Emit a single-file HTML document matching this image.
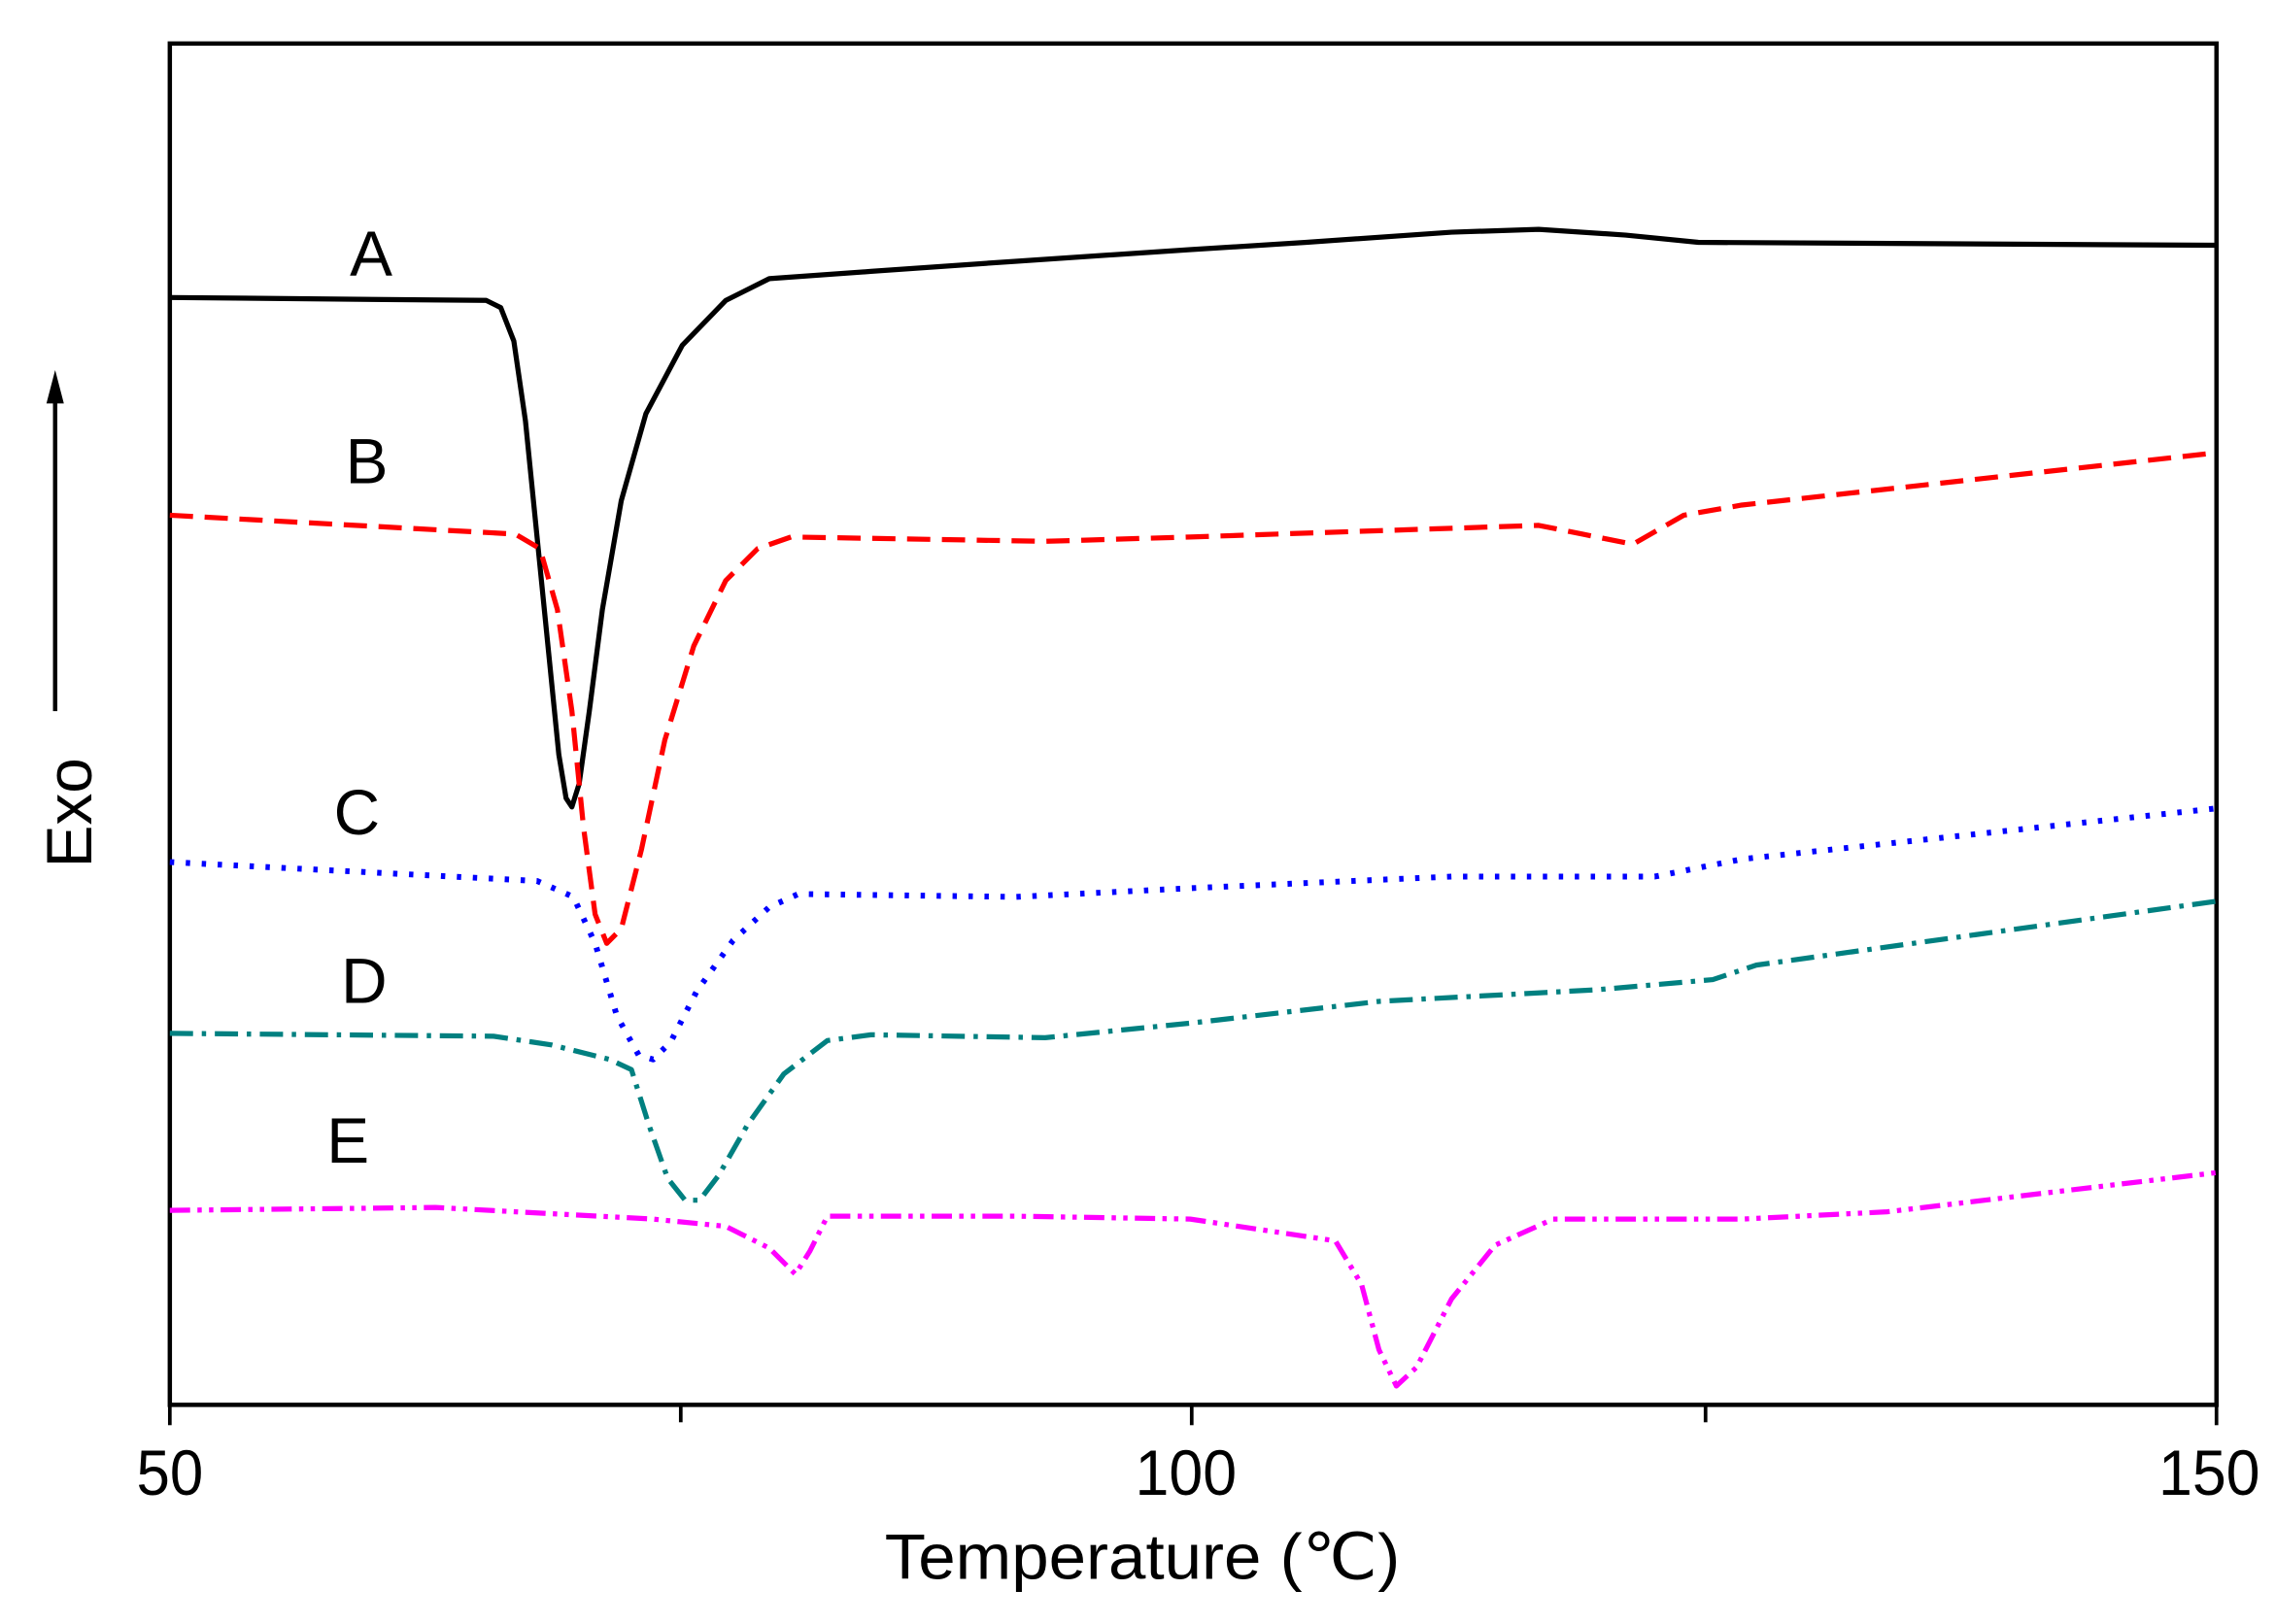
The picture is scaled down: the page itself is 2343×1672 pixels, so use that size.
<!DOCTYPE html>
<html><head><meta charset="utf-8"><style>
html,body{margin:0;padding:0;background:#fff;}
svg{display:block;}
text{font-family:"Liberation Sans",sans-serif;}
</style></head><body>
<svg width="2343" height="1672" viewBox="0 0 1568 1119" preserveAspectRatio="none" xmlns="http://www.w3.org/2000/svg">
<rect x="0" y="0" width="1568" height="1119" fill="#fff"/>
<rect x="117" y="30" width="1410" height="938" fill="none" stroke="#000" stroke-width="3"/>
<g stroke="#000" stroke-width="2.5">
<line x1="117" y1="968" x2="117" y2="982"/>
<line x1="469" y1="968" x2="469" y2="980"/>
<line x1="821" y1="968" x2="821" y2="982"/>
<line x1="1175" y1="968" x2="1175" y2="980"/>
<line x1="1527" y1="968" x2="1527" y2="982"/>
</g>
<g font-size="44" text-anchor="middle" fill="#000">
<text x="117" y="1030" textLength="46" lengthAdjust="spacingAndGlyphs">50</text>
<text x="817" y="1030" textLength="70" lengthAdjust="spacingAndGlyphs">100</text>
<text x="1522" y="1030" textLength="70" lengthAdjust="spacingAndGlyphs">150</text>
<text x="787" y="1088" textLength="355" lengthAdjust="spacingAndGlyphs">Temperature (℃)</text>
</g>
<text x="63" y="560" font-size="44" text-anchor="middle" transform="rotate(-90 63 560)">Exo</text>
<line x1="38" y1="490" x2="38" y2="275" stroke="#000" stroke-width="3"/>
<polygon points="38,255 32,278 44,278" fill="#000"/>
<g font-size="44" fill="#000">
<text x="241" y="190">A</text>
<text x="238" y="333">B</text>
<text x="230" y="575">C</text>
<text x="235" y="691">D</text>
<text x="225" y="801">E</text>
</g>
<g fill="none" stroke-width="3.5" stroke-linejoin="round">
<polyline stroke="#000" points="117,205 335,207 345,212 354,235 362,290 370,370 378,450 385,520 390,550 394,556 399,540 406,490 415,420 428,345 445,285 470,238 500,207 530,192 600,187 700,180 820,172 900,167 1000,160 1060,158 1120,162 1170,167 1527,169"/>
<polyline stroke="#ff0000" stroke-dasharray="16,8" points="117,355 355,368 372,378 384,420 394,490 402,570 410,630 418,650 428,640 442,585 458,510 478,445 500,400 522,378 545,370 720,373 820,370 1060,362 1090,368 1125,375 1160,355 1200,348 1527,312"/>
<polyline stroke="#0000ff" stroke-dasharray="3,8" stroke-width="4" points="117,594 370,607 395,618 410,650 425,700 440,727 450,730 462,718 480,683 505,648 530,625 550,616 700,618 820,612 1000,604 1140,604 1200,592 1527,557"/>
<polyline stroke="#008080" stroke-dasharray="16,6,3,6" points="117,712 340,714 380,720 420,730 435,737 447,775 460,812 472,827 482,827 495,810 515,775 540,740 570,717 600,713 720,715 820,705 950,690 1100,682 1180,675 1210,665 1527,621"/>
<polyline stroke="#ff00ff" stroke-dasharray="14,5,3,5,3,5" points="117,834 300,832 450,840 500,845 530,860 548,878 558,862 570,838 700,838 820,840 920,855 938,885 950,930 962,955 976,942 1000,895 1030,858 1070,840 1200,840 1300,835 1527,808"/>
</g>
</svg>
</body></html>
